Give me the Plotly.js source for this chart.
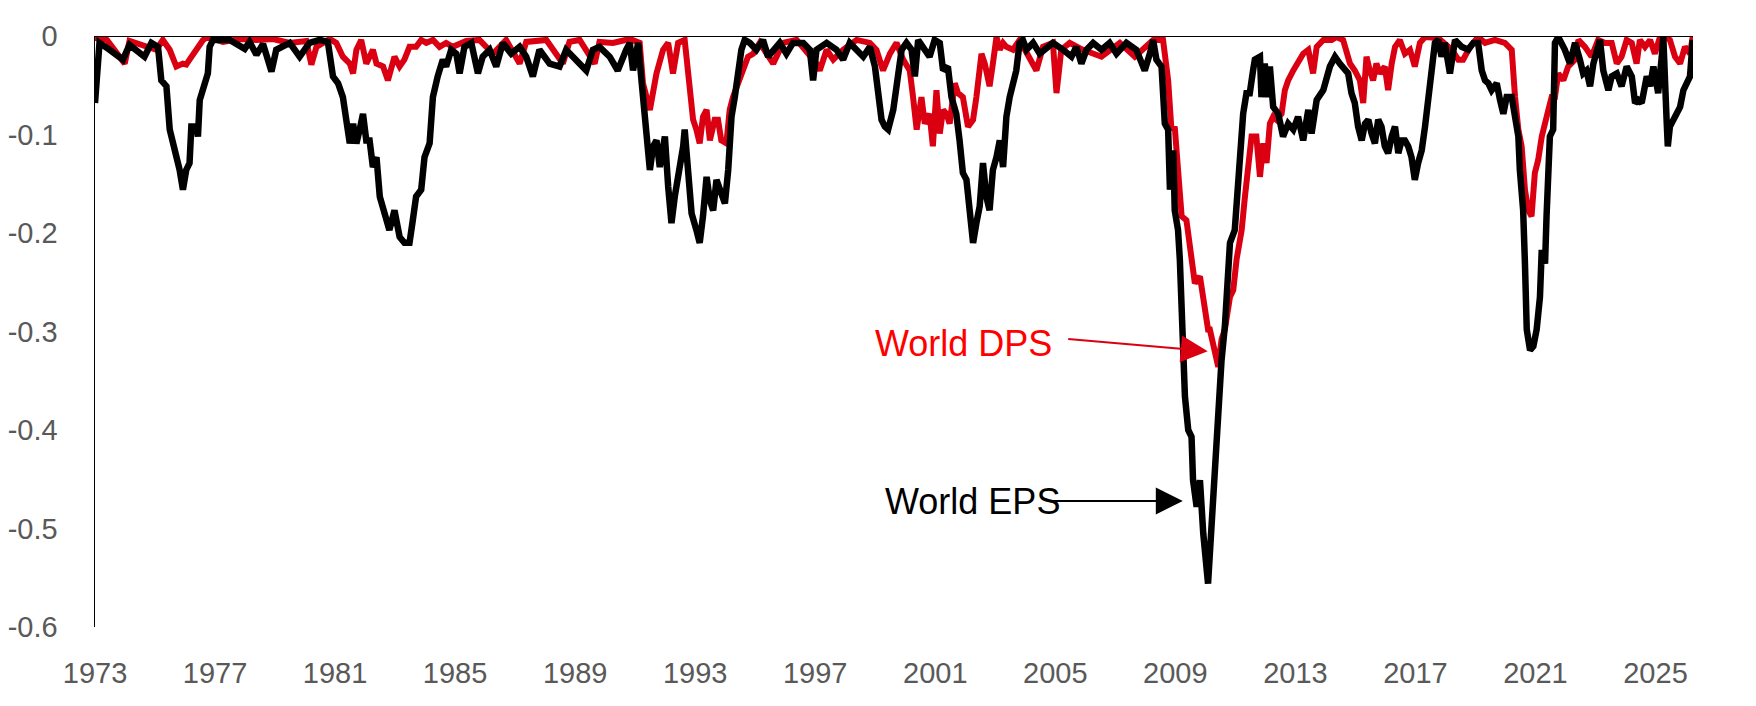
<!DOCTYPE html>
<html>
<head>
<meta charset="utf-8">
<script src="https://cdn.plot.ly/plotly-3.0.1.min.js"></script>
<style>
  html, body { margin: 0; padding: 0; background: #fff; }
  #chart { width: 1756px; height: 706px; }
</style>
</head>
<body>
<div id="chart"></div>
<script>
// decimal years
const epsYears = [
  1973.00, 1973.15, 1973.49, 1973.71, 1973.93, 1974.15, 1974.38, 1974.65, 1974.88, 1975.10,
  1975.21, 1975.38, 1975.49, 1975.60, 1975.71, 1975.82, 1975.93, 1976.04, 1976.15, 1976.21,
  1976.38, 1976.43, 1976.49, 1976.65, 1976.76, 1976.82, 1976.93, 1977.49, 1977.99, 1978.15,
  1978.38, 1978.60, 1978.88, 1979.04, 1979.49, 1979.82, 1980.15, 1980.49, 1980.76, 1980.93,
  1981.10, 1981.26, 1981.38, 1981.49, 1981.60, 1981.71, 1981.82, 1981.93, 1982.04, 1982.15,
  1982.26, 1982.38, 1982.49, 1982.60, 1982.81, 1982.98, 1983.15, 1983.31, 1983.48, 1983.59,
  1983.70, 1983.87, 1983.98, 1984.15, 1984.26, 1984.42, 1984.59, 1984.70, 1984.87, 1985.04,
  1985.15, 1985.31, 1985.54, 1985.76, 1985.92, 1986.15, 1986.37, 1986.59, 1986.87, 1987.15,
  1987.37, 1987.59, 1987.81, 1988.15, 1988.48, 1988.70, 1989.04, 1989.37, 1989.59, 1989.81,
  1990.15, 1990.42, 1990.70, 1990.82, 1990.93, 1991.10, 1991.21, 1991.32, 1991.38, 1991.49,
  1991.60, 1991.71, 1991.82, 1991.93, 1991.99, 1992.10, 1992.21, 1992.32, 1992.49, 1992.60,
  1992.65, 1992.76, 1992.88, 1993.04, 1993.15, 1993.26, 1993.38, 1993.49, 1993.60, 1993.71,
  1993.82, 1993.99, 1994.10, 1994.21, 1994.32, 1994.43, 1994.54, 1994.65, 1994.82, 1995.04,
  1995.26, 1995.43, 1995.60, 1995.82, 1996.04, 1996.26, 1996.60, 1996.82, 1996.93, 1997.04,
  1997.38, 1997.71, 1997.93, 1998.15, 1998.60, 1998.82, 1998.99, 1999.10, 1999.21, 1999.32,
  1999.43, 1999.60, 1999.71, 1999.88, 2000.04, 2000.21, 2000.32, 2000.43, 2000.65, 2000.81,
  2000.98, 2001.15, 2001.26, 2001.42, 2001.54, 2001.70, 2001.81, 2001.92, 2002.04, 2002.15,
  2002.26, 2002.37, 2002.48, 2002.59, 2002.70, 2002.81, 2002.92, 2003.04, 2003.15, 2003.26,
  2003.37, 2003.48, 2003.59, 2003.70, 2003.81, 2003.92, 2004.04, 2004.26, 2004.48, 2004.92,
  2005.26, 2005.54, 2005.70, 2005.87, 2006.04, 2006.26, 2006.54, 2006.81, 2007.04, 2007.37,
  2007.70, 2007.98, 2008.15, 2008.26, 2008.37, 2008.54, 2008.65, 2008.76, 2008.82, 2008.93,
  2008.98, 2009.09, 2009.15, 2009.21, 2009.26, 2009.32, 2009.43, 2009.54, 2009.59, 2009.71,
  2009.82, 2009.93, 2010.09, 2010.21, 2010.32, 2010.43, 2010.54, 2010.65, 2010.82, 2010.98,
  2011.15, 2011.26, 2011.37, 2011.48, 2011.59, 2011.65, 2011.82, 2011.87, 2011.98, 2012.09,
  2012.15, 2012.26, 2012.43, 2012.59, 2012.76, 2012.93, 2013.09, 2013.26, 2013.43, 2013.54,
  2013.71, 2013.93, 2014.15, 2014.32, 2014.48, 2014.65, 2014.76, 2014.87, 2014.98, 2015.09,
  2015.21, 2015.32, 2015.43, 2015.54, 2015.65, 2015.76, 2015.87, 2015.98, 2016.09, 2016.21,
  2016.32, 2016.43, 2016.54, 2016.65, 2016.76, 2016.87, 2016.98, 2017.09, 2017.21, 2017.32,
  2017.43, 2017.54, 2017.65, 2017.76, 2017.87, 2017.98, 2018.15, 2018.32, 2018.54, 2018.76,
  2018.93, 2019.09, 2019.21, 2019.32, 2019.43, 2019.54, 2019.71, 2019.82, 2019.93, 2020.04,
  2020.21, 2020.32, 2020.43, 2020.48, 2020.59, 2020.65, 2020.71, 2020.82, 2020.93, 2021.04,
  2021.15, 2021.21, 2021.32, 2021.37, 2021.48, 2021.59, 2021.65, 2021.76, 2021.98, 2022.15,
  2022.32, 2022.48, 2022.59, 2022.70, 2022.82, 2022.93, 2023.04, 2023.15, 2023.26, 2023.43,
  2023.54, 2023.71, 2023.87, 2024.04, 2024.21, 2024.32, 2024.43, 2024.54, 2024.71, 2024.82,
  2024.93, 2025.09, 2025.21, 2025.26, 2025.37, 2025.41, 2025.48, 2025.59, 2025.71, 2025.82,
  2025.93, 2026.04, 2026.15, 2026.24
];
const epsValues = [
  -0.068, -0.007, -0.014, -0.019, -0.024, -0.009, -0.014, -0.021, -0.007, -0.011,
  -0.045, -0.051, -0.095, -0.109, -0.116, -0.136, -0.156, -0.136, -0.129, -0.092,
  -0.092, -0.102, -0.065, -0.048, -0.038, -0.011, -0.004, -0.004, -0.013, -0.006,
  -0.019, -0.008, -0.036, -0.014, -0.007, -0.021, -0.007, -0.004, -0.006, -0.041,
  -0.048, -0.062, -0.085, -0.109, -0.089, -0.109, -0.095, -0.079, -0.106, -0.106,
  -0.133, -0.123, -0.163, -0.177, -0.197, -0.177, -0.204, -0.210, -0.210, -0.187,
  -0.163, -0.156, -0.123, -0.109, -0.062, -0.041, -0.024, -0.031, -0.014, -0.018,
  -0.038, -0.011, -0.007, -0.038, -0.021, -0.014, -0.031, -0.007, -0.018, -0.011,
  -0.021, -0.041, -0.014, -0.028, -0.031, -0.014, -0.024, -0.035, -0.014, -0.011,
  -0.021, -0.035, -0.014, -0.007, -0.035, -0.007, -0.045, -0.085, -0.112, -0.136,
  -0.112, -0.106, -0.133, -0.106, -0.102, -0.153, -0.190, -0.163, -0.136, -0.112,
  -0.095, -0.129, -0.180, -0.197, -0.210, -0.183, -0.143, -0.167, -0.177, -0.146,
  -0.156, -0.170, -0.136, -0.082, -0.062, -0.035, -0.014, -0.004, -0.007, -0.014,
  -0.004, -0.021, -0.014, -0.007, -0.018, -0.007, -0.007, -0.014, -0.045, -0.014,
  -0.007, -0.014, -0.024, -0.007, -0.021, -0.011, -0.031, -0.062, -0.085, -0.092,
  -0.095, -0.075, -0.051, -0.014, -0.007, -0.014, -0.041, -0.004, -0.014, -0.021,
  -0.004, -0.007, -0.035, -0.031, -0.062, -0.079, -0.106, -0.139, -0.146, -0.183,
  -0.210, -0.190, -0.173, -0.129, -0.163, -0.177, -0.136, -0.123, -0.106, -0.133,
  -0.082, -0.062, -0.051, -0.035, -0.007, -0.004, -0.014, -0.007, -0.018, -0.007,
  -0.014, -0.021, -0.011, -0.028, -0.014, -0.007, -0.014, -0.007, -0.018, -0.007,
  -0.014, -0.035, -0.018, -0.004, -0.024, -0.031, -0.089, -0.095, -0.156, -0.116,
  -0.177, -0.197, -0.227, -0.298, -0.315, -0.366, -0.400, -0.407, -0.451, -0.478,
  -0.451, -0.505, -0.556, -0.491, -0.424, -0.376, -0.329, -0.295, -0.210, -0.197,
  -0.129, -0.079, -0.058, -0.058, -0.035, -0.024, -0.021, -0.062, -0.028, -0.062,
  -0.031, -0.072, -0.079, -0.102, -0.089, -0.095, -0.082, -0.106, -0.075, -0.099,
  -0.065, -0.055, -0.031, -0.021, -0.028, -0.035, -0.038, -0.058, -0.068, -0.092,
  -0.106, -0.089, -0.085, -0.099, -0.109, -0.085, -0.092, -0.112, -0.119, -0.102,
  -0.092, -0.119, -0.106, -0.106, -0.112, -0.123, -0.146, -0.129, -0.116, -0.092,
  -0.062, -0.045, -0.007, -0.004, -0.021, -0.007, -0.038, -0.004, -0.011, -0.014,
  -0.007, -0.007, -0.035, -0.045, -0.048, -0.055, -0.048, -0.065, -0.079, -0.062,
  -0.062, -0.082, -0.102, -0.136, -0.177, -0.231, -0.298, -0.319, -0.315, -0.298,
  -0.265, -0.217, -0.231, -0.183, -0.102, -0.095, -0.007, -0.001, -0.014, -0.028,
  -0.007, -0.024, -0.038, -0.035, -0.051, -0.028, -0.014, -0.004, -0.035, -0.055,
  -0.041, -0.038, -0.051, -0.031, -0.041, -0.068, -0.065, -0.068, -0.041, -0.051,
  -0.031, -0.058, -0.021, -0.001, -0.085, -0.112, -0.092, -0.085, -0.079, -0.072,
  -0.055, -0.048, -0.041, -0.004
];

const dpsYears = [
  1973.00, 1973.40, 1973.99, 1974.15, 1975.04, 1975.26, 1975.49, 1975.71, 1975.93, 1976.04,
  1976.15, 1976.38, 1976.60, 1976.76, 1977.26, 1977.82, 1978.38, 1978.93, 1979.49, 1980.04,
  1980.21, 1980.38, 1980.82, 1981.04, 1981.26, 1981.49, 1981.60, 1981.71, 1981.87, 1982.04,
  1982.26, 1982.38, 1982.60, 1982.76, 1982.98, 1983.15, 1983.31, 1983.48, 1983.70, 1983.87,
  1984.04, 1984.26, 1984.48, 1984.70, 1984.92, 1985.37, 1985.81, 1986.26, 1986.70, 1987.15,
  1987.37, 1988.04, 1988.59, 1988.81, 1989.15, 1989.65, 1989.81, 1990.26, 1990.70, 1990.82,
  1991.15, 1991.26, 1991.49, 1991.71, 1991.93, 1992.10, 1992.26, 1992.43, 1992.65, 1992.82,
  1992.93, 1993.04, 1993.15, 1993.26, 1993.38, 1993.49, 1993.65, 1993.76, 1993.87, 1994.04,
  1994.15, 1994.26, 1994.43, 1994.60, 1994.76, 1994.93, 1995.15, 1995.60, 1995.93, 1996.38,
  1997.04, 1997.15, 1997.38, 1997.60, 1997.93, 1998.38, 1998.82, 1999.04, 1999.26, 1999.49,
  1999.71, 1999.93, 2000.15, 2000.26, 2000.38, 2000.54, 2000.65, 2000.81, 2000.92, 2001.04,
  2001.15, 2001.26, 2001.37, 2001.48, 2001.65, 2001.76, 2001.92, 2002.09, 2002.26, 2002.37,
  2002.54, 2002.65, 2002.81, 2002.92, 2003.04, 2003.15, 2003.26, 2003.37, 2003.59, 2003.81,
  2004.15, 2004.37, 2004.59, 2004.92, 2005.04, 2005.20, 2005.48, 2005.92, 2006.54, 2007.15,
  2007.65, 2008.26, 2008.59, 2008.76, 2008.87, 2008.98, 2009.09, 2009.21, 2009.37, 2009.48,
  2009.65, 2009.82, 2009.93, 2010.09, 2010.15, 2010.32, 2010.43, 2010.54, 2010.65, 2010.82,
  2010.93, 2011.04, 2011.21, 2011.32, 2011.43, 2011.54, 2011.70, 2011.82, 2011.93, 2012.04,
  2012.15, 2012.26, 2012.37, 2012.54, 2012.65, 2012.76, 2012.93, 2013.09, 2013.26, 2013.43,
  2013.59, 2013.71, 2013.93, 2014.21, 2014.37, 2014.59, 2014.82, 2014.98, 2015.15, 2015.26,
  2015.37, 2015.48, 2015.59, 2015.70, 2015.82, 2015.98, 2016.09, 2016.21, 2016.32, 2016.48,
  2016.65, 2016.82, 2016.98, 2017.15, 2017.32, 2017.76, 2018.21, 2018.43, 2018.59, 2018.82,
  2019.09, 2019.32, 2019.65, 2019.98, 2020.21, 2020.32, 2020.43, 2020.54, 2020.65, 2020.76,
  2020.87, 2020.98, 2021.09, 2021.21, 2021.32, 2021.43, 2021.54, 2021.65, 2021.76, 2021.93,
  2022.09, 2022.32, 2022.43, 2022.65, 2022.87, 2023.09, 2023.32, 2023.54, 2023.71, 2023.87,
  2024.04, 2024.21, 2024.37, 2024.48, 2024.65, 2024.82, 2024.98, 2025.15, 2025.32, 2025.48,
  2025.65, 2025.82, 2025.98, 2026.15, 2026.24
];
const dpsValues = [
  -0.002, -0.004, -0.028, -0.005, -0.014, -0.004, -0.014, -0.031, -0.028, -0.029,
  -0.024, -0.014, -0.004, -0.001, -0.006, -0.003, -0.004, -0.003, -0.007, -0.005,
  -0.029, -0.011, -0.003, -0.007, -0.021, -0.028, -0.038, -0.014, -0.004, -0.028,
  -0.014, -0.028, -0.031, -0.045, -0.021, -0.031, -0.024, -0.011, -0.011, -0.004,
  -0.007, -0.004, -0.011, -0.007, -0.011, -0.005, -0.004, -0.018, -0.004, -0.028,
  -0.006, -0.004, -0.028, -0.006, -0.004, -0.028, -0.006, -0.007, -0.004, -0.003,
  -0.007, -0.048, -0.075, -0.038, -0.014, -0.007, -0.038, -0.007, -0.004, -0.062,
  -0.085, -0.095, -0.109, -0.082, -0.075, -0.106, -0.085, -0.085, -0.106, -0.109,
  -0.075, -0.062, -0.048, -0.035, -0.021, -0.018, -0.007, -0.028, -0.007, -0.004,
  -0.028, -0.035, -0.014, -0.024, -0.014, -0.004, -0.007, -0.014, -0.035, -0.018,
  -0.007, -0.024, -0.035, -0.062, -0.095, -0.062, -0.089, -0.079, -0.112, -0.055,
  -0.099, -0.075, -0.079, -0.089, -0.048, -0.058, -0.062, -0.092, -0.085, -0.062,
  -0.018, -0.028, -0.051, -0.028, -0.001, -0.014, -0.007, -0.011, -0.014, -0.004,
  -0.024, -0.035, -0.011, -0.007, -0.058, -0.014, -0.007, -0.014, -0.021, -0.007,
  -0.021, -0.004, -0.004, -0.045, -0.095, -0.092, -0.136, -0.183, -0.187, -0.214,
  -0.251, -0.244, -0.268, -0.298, -0.298, -0.322, -0.336, -0.308, -0.298, -0.265,
  -0.258, -0.227, -0.197, -0.163, -0.129, -0.102, -0.102, -0.143, -0.109, -0.129,
  -0.089, -0.082, -0.085, -0.079, -0.055, -0.045, -0.035, -0.028, -0.018, -0.014,
  -0.038, -0.011, -0.004, -0.004, -0.001, -0.004, -0.028, -0.035, -0.045, -0.068,
  -0.021, -0.035, -0.045, -0.028, -0.038, -0.031, -0.055, -0.028, -0.011, -0.004,
  -0.018, -0.014, -0.031, -0.007, -0.001, -0.002, -0.014, -0.024, -0.024, -0.011,
  -0.001, -0.007, -0.004, -0.007, -0.014, -0.062, -0.095, -0.112, -0.156, -0.177,
  -0.183, -0.139, -0.126, -0.102, -0.085, -0.075, -0.062, -0.062, -0.038, -0.045,
  -0.031, -0.024, -0.004, -0.011, -0.021, -0.004, -0.007, -0.007, -0.028, -0.021,
  -0.004, -0.007, -0.028, -0.004, -0.011, -0.004, -0.018, -0.001, -0.001, -0.004,
  -0.021, -0.028, -0.011, -0.018, -0.001
];

const xTickVals = [1973, 1977, 1981, 1985, 1989, 1993, 1997, 2001, 2005, 2009, 2013, 2017, 2021, 2025];
const xTickText = xTickVals.map(String);
const yTickVals = [0, -0.1, -0.2, -0.3, -0.4, -0.5, -0.6];
const yTickText = ['0', '-0.1', '-0.2', '-0.3', '-0.4', '-0.5', '-0.6'];

const RED = '#DB0011';
const FONT = 'Liberation Sans, Arial, sans-serif';

const traces = [
  {
    x: dpsYears, y: dpsValues, name: 'World DPS',
    type: 'scatter', mode: 'lines',
    line: { color: RED, width: 6 }
  },
  {
    x: epsYears, y: epsValues, name: 'World EPS',
    type: 'scatter', mode: 'lines',
    line: { color: '#000000', width: 6.5 }
  }
];

const layout = {
  width: 1756,
  height: 706,
  margin: { l: 95, r: 63, t: 36, b: 79 },
  paper_bgcolor: '#ffffff',
  plot_bgcolor: '#ffffff',
  showlegend: false,
  font: { family: FONT, size: 29, color: '#595959' },
  xaxis: {
    range: [1973, 2026.25],
    tickvals: xTickVals,
    ticktext: xTickText,
    showgrid: false,
    zeroline: false,
    showline: false,
    ticks: '',
    ticklabelstandoff: 26,
    tickfont: { family: FONT, size: 29, color: '#595959' }
  },
  yaxis: {
    range: [-0.6, 0],
    tickvals: yTickVals,
    ticktext: yTickText,
    showgrid: false,
    zeroline: false,
    showline: true,
    linecolor: '#000000',
    linewidth: 1.5,
    ticks: '',
    ticklabelstandoff: 30,
    tickfont: { family: FONT, size: 29, color: '#595959' }
  },
  shapes: [
    {
      type: 'line', xref: 'paper', yref: 'y',
      x0: 0, x1: 1, y0: 0, y1: 0,
      line: { color: '#000000', width: 2 }
    }
  ],
  annotations: [
    {
      x: 1998.92, y: -0.312, xref: 'x', yref: 'y',
      text: 'World DPS', showarrow: false,
      xanchor: 'left', yanchor: 'middle',
      font: { family: FONT, size: 36, color: '#FF0000' }
    },
    {
      x: 1999.25, y: -0.473, xref: 'x', yref: 'y',
      text: 'World EPS', showarrow: false,
      xanchor: 'left', yanchor: 'middle',
      font: { family: FONT, size: 36, color: '#000000' }
    },
    {
      x: 2010.08, y: -0.320, xref: 'x', yref: 'y',
      ax: 2005.38, ay: -0.3076, axref: 'x', ayref: 'y',
      text: '', showarrow: true,
      arrowhead: 2, arrowsize: 2.7, arrowwidth: 2, arrowcolor: RED,
      standoff: 0, startstandoff: 0
    },
    {
      x: 2009.25, y: -0.472, xref: 'x', yref: 'y',
      ax: 2004.72, ay: -0.472, axref: 'x', ayref: 'y',
      text: '', showarrow: true,
      arrowhead: 2, arrowsize: 2.7, arrowwidth: 2, arrowcolor: '#000000',
      standoff: 0, startstandoff: 0
    }
  ]
};

Plotly.newPlot('chart', traces, layout, { displayModeBar: false, staticPlot: true });
</script>
</body>
</html>
